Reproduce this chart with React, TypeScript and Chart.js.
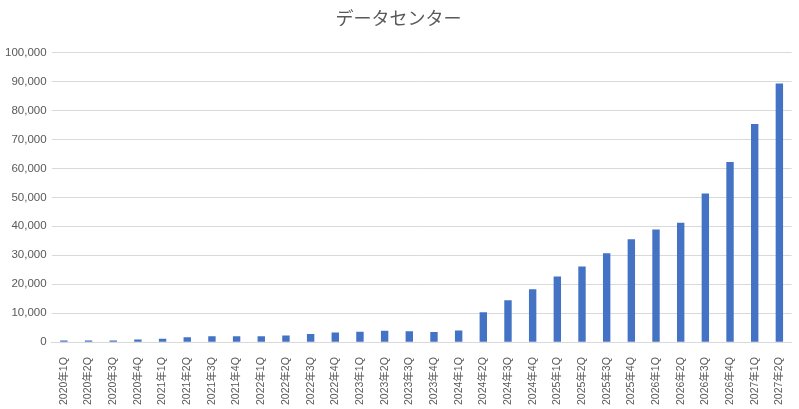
import { useEffect, useRef } from 'react'
import { Chart, registerables } from 'chart.js'

Chart.register(...registerables)

const quarters = [
  '2020年1Q', '2020年2Q', '2020年3Q', '2020年4Q',
  '2021年1Q', '2021年2Q', '2021年3Q', '2021年4Q',
  '2022年1Q', '2022年2Q', '2022年3Q', '2022年4Q',
  '2023年1Q', '2023年2Q', '2023年3Q', '2023年4Q',
  '2024年1Q', '2024年2Q', '2024年3Q', '2024年4Q',
  '2025年1Q', '2025年2Q', '2025年3Q', '2025年4Q',
  '2026年1Q', '2026年2Q', '2026年3Q', '2026年4Q',
  '2027年1Q', '2027年2Q',
]

const dataCenter = [
  600, 600, 600, 900,
  1200, 1700, 2000, 2000,
  2000, 2300, 2800, 3300,
  3600, 3900, 3800, 3500,
  4000, 10300, 14500, 18300,
  22700, 26100, 30700, 35500,
  38900, 41200, 51300, 62200,
  75300, 89300,
]

const FONT = '"Liberation Sans", "Noto Sans CJK JP", sans-serif'
const TEXT = '#595959'
const GRID = '#d9d9d9'
const BAR = '#4472c4'

export default function App() {
  const canvasRef = useRef<HTMLCanvasElement>(null)

  useEffect(() => {
    document.body.style.margin = '0'
    if (!canvasRef.current) return
    const chart = new Chart(canvasRef.current, {
      type: 'bar',
      data: {
        labels: quarters,
        datasets: [
          {
            label: 'データセンター',
            data: dataCenter,
            backgroundColor: BAR,
            barPercentage: 0.6,
            categoryPercentage: 0.5,
          },
        ],
      },
      options: {
        responsive: false,
        animation: false,
        layout: { padding: { left: 0, right: 2, top: 7, bottom: -3 } },
        plugins: {
          legend: { display: false },
          tooltip: { enabled: false },
          title: {
            display: true,
            text: 'データセンター',
            color: TEXT,
            font: { family: FONT, size: 18, weight: 'normal' },
            padding: { top: 2, bottom: 22 },
          },
        },
        scales: {
          x: {
            grid: { display: false },
            border: { color: GRID },
            ticks: {
              color: TEXT,
              font: { family: FONT, size: 10.5 },
              minRotation: 90,
              maxRotation: 90,
              autoSkip: false,
              padding: 7,
            },
          },
          y: {
            min: 0,
            max: 100000,
            grid: { color: GRID, drawTicks: false },
            border: { display: false },
            ticks: {
              stepSize: 10000,
              color: TEXT,
              font: { family: FONT, size: 11.5 },
              padding: 5,
              callback: (v) => Number(v).toLocaleString('en-US'),
            },
          },
        },
      },
    })
    return () => chart.destroy()
  }, [])

  return (
    <div style={{ width: 799, height: 409 }}>
      <canvas ref={canvasRef} width={799} height={409} />
    </div>
  )
}
